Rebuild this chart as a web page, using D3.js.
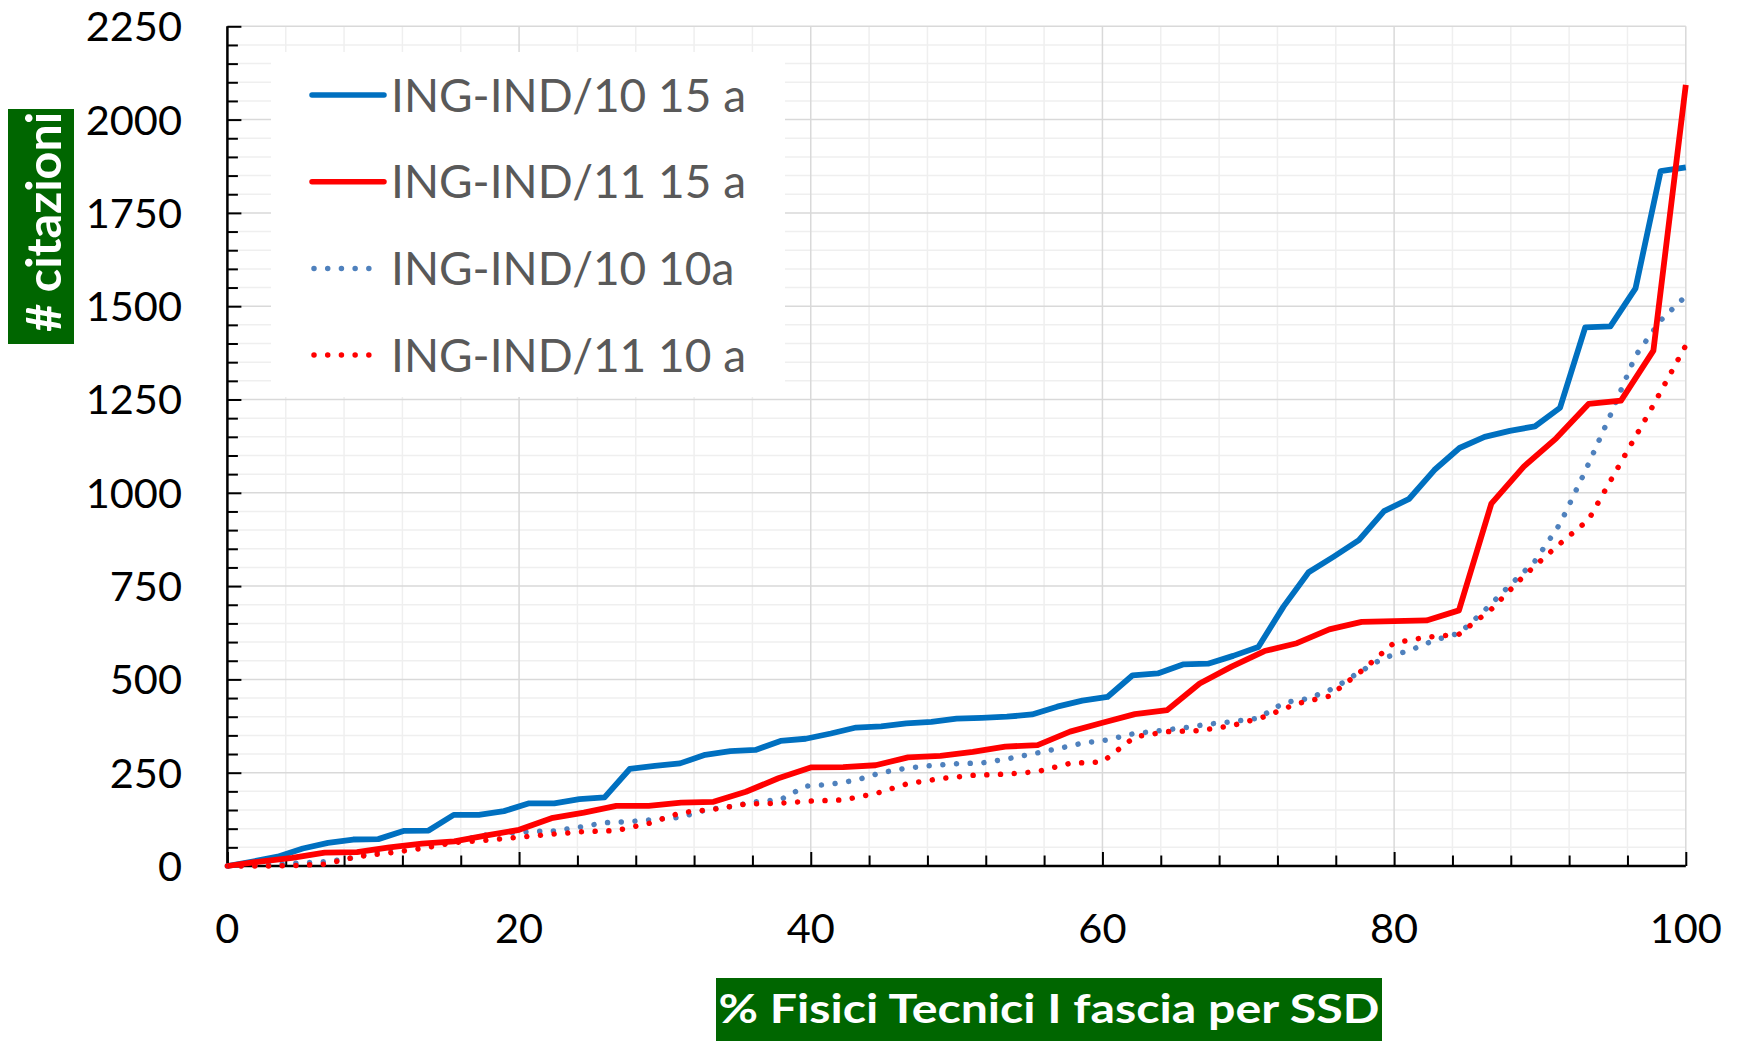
<!DOCTYPE html>
<html>
<head>
<meta charset="utf-8">
<script src="https://cdn.jsdelivr.net/npm/d3@7"></script>
<style>
  body { margin: 0; background: #fff; }
  text { font-family: Lato, "Open Sans", sans-serif; }
</style>
</head>
<body>
<div id="chart"></div>
<script>

///// Data

// citations, sorted, for each SSD (x = rank as % of the professors of that SSD)
let ind10_15a = [0, 12, 25, 47, 62, 71, 72, 94, 95, 137, 137, 147, 168, 168, 179, 184,
    260, 268, 275, 298, 308, 311, 335, 341, 355, 371, 374, 382, 386, 395, 397, 400, 406,
    427, 443, 453, 511, 516, 540, 542, 563, 587, 695, 787, 829, 873, 951, 984, 1061, 1120,
    1150, 1166, 1178, 1228, 1443, 1446, 1548, 1862, 1872];

let ind11_15a = [0, 12, 22, 36, 37, 50, 60, 66, 82, 97, 128, 143, 161, 161, 170, 172, 199,
    235, 264, 265, 270, 291, 295, 306, 320, 324, 360, 384, 407, 418, 489, 535, 576, 597, 634,
    654, 656, 658, 685, 971, 1070, 1146, 1238, 1247, 1381, 2093];

let ind10_10a = [0, 2, 5, 8, 12, 22, 38, 54, 59, 62, 81, 88, 92, 94, 104, 116, 119, 125, 130,
    150, 159, 172, 178, 214, 219, 230, 250, 262, 269, 274, 276, 287, 300, 314, 329, 338, 354,
    362, 370, 380, 387, 396, 437, 449, 476, 519, 558, 577, 605, 624, 685, 752, 817, 917, 1058,
    1208, 1367, 1462, 1527];

let ind11_10a = [0, 0, 1, 5, 25, 35, 47, 63, 69, 77, 85, 92, 95, 114, 143, 152, 166, 168, 174,
    177, 194, 221, 234, 243, 246, 253, 275, 279, 346, 360, 363, 376, 400, 435, 455, 523, 598,
    613, 621, 688, 777, 855, 928, 1082, 1235, 1395];

let seriesNames = ["ING-IND/10 15 a", "ING-IND/11 15 a", "ING-IND/10 10a", "ING-IND/11 10 a"];

let xTicks = [0, 20, 40, 60, 80, 100],
    yTicks = [0, 250, 500, 750, 1000, 1250, 1500, 1750, 2000, 2250];

let xTitle = "% Fisici Tecnici I fascia per SSD",
    yTitle = "# citazioni";

///// Layout

let W = 1739, H = 1041;
let plot = { left: 227.4, right: 1685.8, top: 26.3, bottom: 866 };

let x = d3.scaleLinear().domain([0, 100]).range([plot.left, plot.right]);
let y = d3.scaleLinear().domain([0, 2250]).range([plot.bottom, plot.top]);

let series = [
    { name: seriesNames[0], values: ind10_15a, color: "#0070C0", dotted: false },
    { name: seriesNames[1], values: ind11_15a, color: "#FF0000", dotted: false },
    { name: seriesNames[2], values: ind10_10a, color: "#4F81BD", dotted: true },
    { name: seriesNames[3], values: ind11_10a, color: "#FF0000", dotted: true }
];

let svg = d3.select("#chart")
    .append("svg")
    .attr("width", W)
    .attr("height", H);

///// Gridlines

let minorX = d3.range(0, 101, 4).filter(d => d % 20 !== 0),
    minorY = d3.range(0, 2251, 50).filter(d => d % 250 !== 0);

let grid = svg.append("g").attr("class", "grid");

grid.selectAll(".gx-minor").data(minorX).enter().append("line")
    .attr("x1", d => x(d)).attr("x2", d => x(d))
    .attr("y1", plot.top).attr("y2", plot.bottom)
    .attr("stroke", "#efefef").attr("stroke-width", 1.5);

grid.selectAll(".gy-minor").data(minorY).enter().append("line")
    .attr("x1", plot.left).attr("x2", plot.right)
    .attr("y1", d => y(d)).attr("y2", d => y(d))
    .attr("stroke", "#efefef").attr("stroke-width", 1.5);

grid.selectAll(".gx-major").data(xTicks).enter().append("line")
    .attr("x1", d => x(d)).attr("x2", d => x(d))
    .attr("y1", plot.top).attr("y2", plot.bottom)
    .attr("stroke", "#d9d9d9").attr("stroke-width", 1.5);

grid.selectAll(".gy-major").data(yTicks).enter().append("line")
    .attr("x1", plot.left).attr("x2", plot.right)
    .attr("y1", d => y(d)).attr("y2", d => y(d))
    .attr("stroke", "#d9d9d9").attr("stroke-width", 1.5);

///// Legend background (sits over the gridlines)

let legend = { left: 271, top: 52, right: 785, bottom: 397, rowY: 95, rowStep: 86.7 };

svg.append("rect")
    .attr("x", legend.left).attr("y", legend.top)
    .attr("width", legend.right - legend.left)
    .attr("height", legend.bottom - legend.top)
    .attr("fill", "#fff");

///// Axes (ticks point inward, like the original)

let xAxis = d3.axisBottom(x).tickValues(xTicks).tickSize(-14).tickFormat("");
let xAxisMinor = d3.axisBottom(x).tickValues(minorX).tickSize(-10.5).tickFormat("");
let yAxis = d3.axisLeft(y).tickValues(yTicks).tickSize(-14).tickFormat("");
let yAxisMinor = d3.axisLeft(y).tickValues(minorY).tickSize(-10.5).tickFormat("");

[[xAxisMinor, "x"], [xAxis, "x"], [yAxisMinor, "y"], [yAxis, "y"]].forEach(function(a) {
    let g = svg.append("g")
        .attr("transform", a[1] === "x" ? "translate(0," + plot.bottom + ")" : "translate(" + plot.left + ",0)")
        .call(a[0]);
    g.select(".domain").remove();
    g.selectAll("line").attr("stroke", "#000").attr("stroke-width", 2);
});

svg.append("line")
    .attr("x1", plot.left).attr("x2", plot.right)
    .attr("y1", plot.bottom).attr("y2", plot.bottom)
    .attr("stroke", "#000").attr("stroke-width", 2.5);

svg.append("line")
    .attr("x1", plot.left).attr("x2", plot.left)
    .attr("y1", plot.top).attr("y2", plot.bottom)
    .attr("stroke", "#000").attr("stroke-width", 2.5);

// tick labels
svg.selectAll(".ylab").data(yTicks).enter().append("text")
    .attr("x", 182)
    .attr("y", d => y(d))
    .attr("dy", "0.36em")
    .attr("text-anchor", "end")
    .style("font-size", "41.5px")
    .attr("fill", "#000")
    .text(d => d);

svg.selectAll(".xlab").data(xTicks).enter().append("text")
    .attr("x", d => x(d))
    .attr("y", 943)
    .attr("text-anchor", "middle")
    .style("font-size", "41.5px")
    .attr("fill", "#000")
    .text(d => d);

///// Lines

let line = d3.line()
    .x(function(d, i, arr) { return x(i / (arr.length - 1) * 100); })
    .y(function(d) { return y(d); });

// draw dotted first, solid on top
[2, 3, 0, 1].forEach(function(k) {
    let s = series[k];
    svg.append("path")
        .datum(s.values)
        .attr("fill", "none")
        .attr("stroke", s.color)
        .attr("stroke-width", s.dotted ? 5.5 : 5.8)
        .attr("stroke-linejoin", "round")
        .attr("stroke-linecap", s.dotted ? "round" : "butt")
        .attr("stroke-dasharray", s.dotted ? "0.01 13.7" : null)
        .attr("d", line(s.values));
});

///// Legend entries

series.forEach(function(s, i) {
    let cy = legend.rowY + i * legend.rowStep;
    svg.append("line")
        .attr("x1", s.dotted ? 314 : 312).attr("x2", s.dotted ? 372 : 384)
        .attr("y1", cy).attr("y2", cy)
        .attr("stroke", s.color)
        .attr("stroke-width", 5.5)
        .attr("stroke-linecap", "round")
        .attr("stroke-dasharray", s.dotted ? "0.01 13.7" : null);
    svg.append("text")
        .attr("x", 391)
        .attr("y", cy + 16.5)
        .style("font-size", "46px")
        .attr("fill", "#595959")
        .text(s.name);
});

///// Axis titles on green boxes

svg.append("rect")
    .attr("x", 716).attr("y", 978).attr("width", 666).attr("height", 70)
    .attr("fill", "#006600");

svg.append("text")
    .attr("x", 1049).attr("y", 1023)
    .attr("text-anchor", "middle")
    .attr("textLength", 661)
    .attr("lengthAdjust", "spacingAndGlyphs")
    .style("font-size", "40px")
    .style("font-weight", "bold")
    .attr("fill", "#fff")
    .text(xTitle);

svg.append("rect")
    .attr("x", 8).attr("y", 109).attr("width", 66).attr("height", 235)
    .attr("fill", "#006600");

svg.append("text")
    .attr("transform", "translate(61,222) rotate(-90)")
    .attr("text-anchor", "middle")
    .attr("textLength", 220)
    .attr("lengthAdjust", "spacingAndGlyphs")
    .style("font-size", "48px")
    .style("font-weight", "bold")
    .attr("fill", "#fff")
    .text(yTitle);

</script>
</body>
</html>
